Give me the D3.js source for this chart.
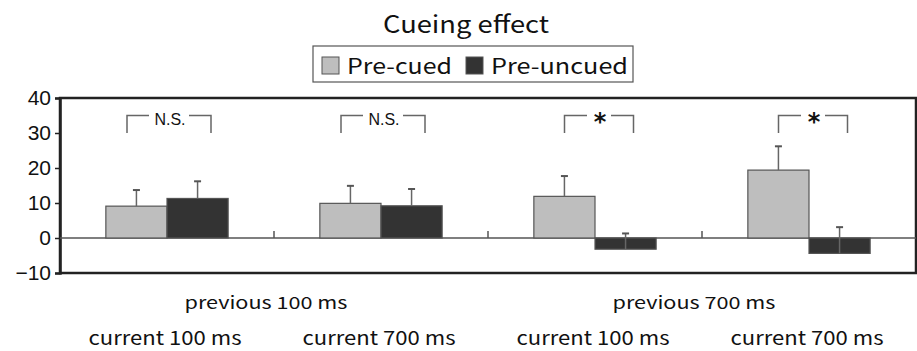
<!DOCTYPE html>
<html><head><meta charset="utf-8">
<script src="https://cdn.jsdelivr.net/npm/d3@7"></script>
<style>
html,body{margin:0;padding:0;background:#fff;}
svg{display:block;}
text{font-family:"Noto Sans CJK JP","Liberation Sans",sans-serif;fill:#111;}
</style></head>
<body><svg id="c" width="917" height="351"></svg>
<script>
const title = "Cueing effect";
const categories = ["p100c100","p100c700","p700c100","p700c700"];
const currentLabels = ["current 100 ms","current 700 ms","current 100 ms","current 700 ms"];
const previousLabels = ["previous 100 ms","previous 700 ms"];
const seriesNames = ["Pre-cued","Pre-uncued"];
const preCued = [9.1, 9.9, 11.9, 19.4];
const preUncued = [11.3, 9.2, -3.2, -4.4];
const preCuedErr = [4.6, 5.0, 5.8, 6.8];
const preUncuedErr = [4.9, 4.8, 4.5, 7.5];
const sigLabels = ["N.S.","N.S.","*","*"];
const yTicks = [-10, 0, 10, 20, 30, 40];
const colors = ["#bebebe","#333333"];

const svg = d3.select("#c");
const L = 60, R = 916, T = 98, B = 273;
const x = d3.scaleBand().domain(categories).range([L, R]).paddingInner(0).paddingOuter(0);
const x1 = d3.scaleBand().domain(seriesNames).range([0, x.bandwidth()]).paddingOuter(0.75).paddingInner(0);
const y = d3.scaleLinear().domain([-10, 40]).range([B, T]);

// title
svg.append("text").attr("x", 466).attr("y", 33).attr("text-anchor","middle")
  .attr("textLength",166).attr("lengthAdjust","spacingAndGlyphs")
  .style("font-size","24px").text(title);

// legend
const lg = svg.append("g");
lg.append("rect").attr("x",313).attr("y",46).attr("width",320).attr("height",36)
  .attr("fill","#fff").attr("stroke","#555").attr("stroke-width",1.2);
const legX = [322, 466];
const legW = [105, 137];
seriesNames.forEach((s,i)=>{
  lg.append("rect").attr("x",legX[i]).attr("y",57).attr("width",17).attr("height",17)
    .attr("fill",colors[i]).attr("stroke","#555").attr("stroke-width",1);
  lg.append("text").attr("x",legX[i]+25).attr("y",74).style("font-size","21px")
    .attr("textLength",legW[i]).attr("lengthAdjust","spacingAndGlyphs").text(s);
});

// frame
svg.append("rect").attr("x",L).attr("y",T).attr("width",R-L).attr("height",B-T)
  .attr("fill","none").attr("stroke","#222").attr("stroke-width",2.5);

// y axis
const ya = svg.append("g").attr("transform",`translate(${L},0)`)
  .call(d3.axisLeft(y).tickValues(yTicks).tickSize(5).tickPadding(4).tickFormat(d=> d<0 ? "\u2212"+Math.abs(d) : d));
ya.select(".domain").attr("stroke","#222").attr("stroke-width",2.5);
ya.selectAll(".tick line").attr("stroke","#222").attr("stroke-width",1.5);
ya.selectAll(".tick text").style("font-family","'Liberation Sans',Arial,sans-serif").style("font-size","21px").attr("fill","#111");

// zero line
svg.append("line").attr("x1",L).attr("x2",R).attr("y1",y(0)).attr("y2",y(0))
  .attr("stroke","#555").attr("stroke-width",1.5);
// category boundary ticks
svg.selectAll(".ctick").data(categories.slice(1)).enter().append("line")
  .attr("x1",d=>x(d)).attr("x2",d=>x(d)).attr("y1",y(0)).attr("y2",y(0)-7)
  .attr("stroke","#555").attr("stroke-width",1.5);

// bars
const series = [preCued, preUncued];
const errs = [preCuedErr, preUncuedErr];
series.forEach((vals,si)=>{
  const g = svg.append("g");
  g.selectAll("rect").data(vals).enter().append("rect")
    .attr("x",(d,i)=>x(categories[i])+x1(seriesNames[si]))
    .attr("width",x1.bandwidth())
    .attr("y",d=>y(Math.max(0,d)))
    .attr("height",d=>Math.abs(y(d)-y(0)))
    .attr("fill",colors[si]).attr("stroke","#555").attr("stroke-width",1.2);
  const cx = i => x(categories[i])+x1(seriesNames[si])+x1.bandwidth()/2;
  g.selectAll("line.e").data(vals).enter().append("line")
    .attr("x1",(d,i)=>cx(i)).attr("x2",(d,i)=>cx(i))
    .attr("y1",d=>y(d)).attr("y2",(d,i)=>y(d+errs[si][i]))
    .attr("stroke","#666").attr("stroke-width",1.5);
  g.selectAll("line.c").data(vals).enter().append("line")
    .attr("x1",(d,i)=>cx(i)-3.5).attr("x2",(d,i)=>cx(i)+3.5)
    .attr("y1",(d,i)=>y(d+errs[si][i])).attr("y2",(d,i)=>y(d+errs[si][i]))
    .attr("stroke","#555").attr("stroke-width",2);
});

// significance brackets
sigLabels.forEach((lab,i)=>{
  const star = lab === "*";
  const c = x(categories[i]) + x.bandwidth()/2 + (star ? 4 : 2);
  const hw = star ? 34.5 : 42;
  const gap = star ? 12 : 20;
  const yt = y(35), yb = y(30);
  const g = svg.append("g").attr("fill","none").attr("stroke","#666").attr("stroke-width",1.5);
  g.append("path").attr("d",`M${c-hw},${yb}V${yt}H${c-gap}`);
  g.append("path").attr("d",`M${c+gap},${yt}H${c+hw}V${yb}`);
  if (star) {
    svg.append("text").attr("x",c+1).attr("y",yt+14).attr("text-anchor","middle")
      .style("font-family","'DejaVu Sans',sans-serif").style("font-size","24px").style("font-weight","bold").text(lab);
  } else {
    svg.append("text").attr("x",c+1).attr("y",yt+9).attr("text-anchor","middle")
      .style("font-family","'Liberation Sans',Arial,sans-serif").style("font-size","16px").text(lab);
  }
});

// category labels
svg.selectAll(".cur").data(currentLabels).enter().append("text")
  .attr("x",(d,i)=>x(categories[i])+x.bandwidth()/2-2).attr("y",345)
  .attr("text-anchor","middle").style("font-size","19px")
  .attr("textLength",153).attr("lengthAdjust","spacingAndGlyphs").text(d=>d);
svg.selectAll(".prev").data(previousLabels).enter().append("text")
  .attr("x",(d,i)=>x(categories[i*2+1])-8).attr("y",309)
  .attr("text-anchor","middle").style("font-size","17px")
  .attr("textLength",163).attr("lengthAdjust","spacingAndGlyphs").text(d=>d);
</script></body></html>
